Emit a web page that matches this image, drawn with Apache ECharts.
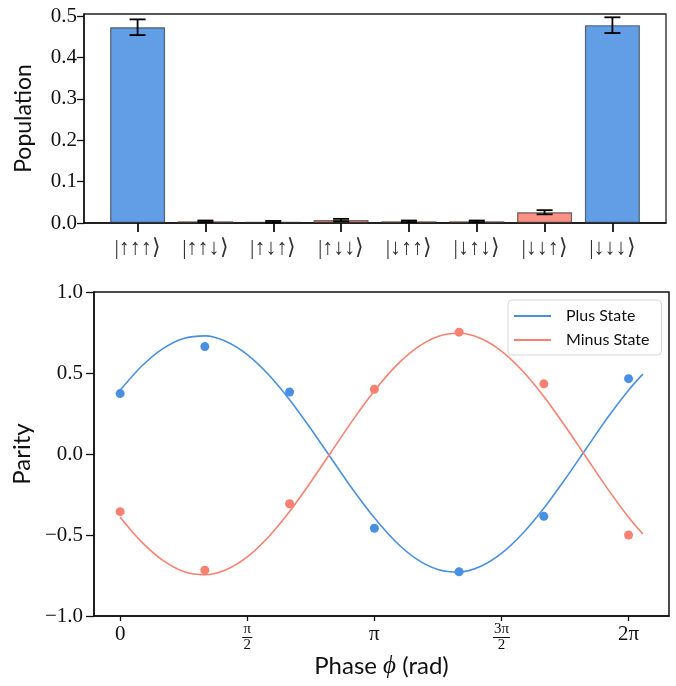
<!DOCTYPE html>
<html>
<head>
<meta charset="utf-8">
<script src="https://cdn.jsdelivr.net/npm/echarts@6/dist/echarts.min.js"></script>
<style>
  html, body { margin: 0; padding: 0; background: #fff; }
  #chart { width: 676px; height: 686px; }
</style>
</head>
<body>
<div id="chart"></div>
<script>
// Three-qubit basis states and their measured populations
const states = ['|↑↑↑⟩', '|↑↑↓⟩', '|↑↓↑⟩', '|↑↓↓⟩', '|↓↑↑⟩', '|↓↑↓⟩', '|↓↓↑⟩', '|↓↓↓⟩'];
const population = [0.473, 0.004, 0.003, 0.007, 0.004, 0.004, 0.026, 0.478];
const populationErr = [0.019, 0.002, 0.002, 0.003, 0.002, 0.002, 0.005, 0.019];
const ghzStates = ['|↑↑↑⟩', '|↓↓↓⟩'];
const popTicks = [0, 0.1, 0.2, 0.3, 0.4, 0.5];

// Parity oscillation: measured points
const phasePoints = [0, 1.047, 2.094, 3.142, 4.189, 5.236, 6.283];
const plusParity = [0.373, 0.663, 0.383, -0.458, -0.727, -0.385, 0.465];
const minusParity = [-0.356, -0.717, -0.307, 0.400, 0.752, 0.433, -0.500];

// Fitted curves, sampled every pi/12
const fitPhase = [0, 0.262, 0.524, 0.785, 1.047, 1.309, 1.571, 1.833, 2.094, 2.356, 2.618, 2.880, 3.142,
  3.403, 3.665, 3.927, 4.189, 4.451, 4.712, 4.974, 5.236, 5.498, 5.760, 6.021, 6.283, 6.460];
const plusFit = [0.394, 0.540, 0.649, 0.713, 0.729, 0.695, 0.614, 0.491, 0.335, 0.156, -0.034, -0.222, -0.394,
  -0.540, -0.649, -0.713, -0.729, -0.695, -0.614, -0.491, -0.335, -0.156, 0.034, 0.222, 0.394, 0.493];
const minusFit = [-0.390, -0.541, -0.655, -0.725, -0.745, -0.714, -0.635, -0.512, -0.355, -0.173, 0.020, 0.212, 0.390,
  0.541, 0.655, 0.725, 0.745, 0.714, 0.635, 0.512, 0.355, 0.173, -0.020, -0.212, -0.390, -0.493];

const phaseTicks = [0, Math.PI / 2, Math.PI, 3 * Math.PI / 2, 2 * Math.PI];
const phaseTickLabels = ['{m|0}', '{s|π}\n{bar| }\n{s|2}', '{m|π}', '{s|3π}\n{wbar| }\n{s|2}', '{m|2π}'];
const parityTicks = [-1, -0.5, 0, 0.5, 1];

const BLUE = '#4a90e2';
const SALMON = '#fa8072';
const SERIF = 'Liberation Serif';
const SANS = 'Lato';

const fmtSigned = v => (v < 0 ? '\u2212' : '') + Math.abs(v).toFixed(1);

const chart = echarts.init(document.getElementById('chart'), null, { renderer: 'canvas' });

const barData = states.map((s, i) => ({
  value: [i, population[i]],
  itemStyle: { color: ghzStates.includes(s) ? BLUE : SALMON, opacity: 0.87 }
}));
const errData = states.map((s, i) => [i, population[i], populationErr[i]]);

chart.setOption({
  animation: false,
  backgroundColor: '#fff',
  grid: [
    { left: 84, right: 10, top: 14, height: 209, show: true, borderColor: '#222', borderWidth: 1.3, backgroundColor: 'transparent' },
    { left: 94, right: 7, top: 292, height: 324, show: true, borderColor: '#111', borderWidth: 1.5, backgroundColor: 'transparent' }
  ],
  legend: {
    data: ['Plus State', 'Minus State'],
    orient: 'vertical',
    left: 508,
    top: 300,
    padding: [8, 12, 7, 6],
    itemWidth: 37,
    itemHeight: 2,
    itemGap: 8,
    icon: 'rect',
    borderColor: '#d6d6d6',
    borderWidth: 1,
    borderRadius: 4,
    backgroundColor: 'rgba(255,255,255,0.8)',
    formatter: name => '{gap| }{t|' + name + '}',
    textStyle: {
      fontFamily: SANS, fontSize: 16, color: '#111',
      rich: {
        gap: { width: 10, fontSize: 16 },
        t: { fontFamily: SANS, fontSize: 16, color: '#111' }
      }
    }
  },
  xAxis: [
    {
      gridIndex: 0, type: 'value', min: -0.79, max: 7.79,
      axisLine: { show: true, onZero: false, lineStyle: { color: '#111', width: 1.5 } },
      axisTick: { show: true, customValues: states.map((s, i) => i), length: 9, lineStyle: { color: '#111', width: 1.8 } },
      axisLabel: {
        customValues: states.map((s, i) => i),
        formatter: v => states[Math.round(v)],
        margin: 14, fontFamily: SERIF, fontSize: 22, color: '#333'
      },
      splitLine: { show: false }
    },
    {
      gridIndex: 1, type: 'value', min: -0.323, max: 6.783,
      name: 'Phase {phi|ϕ} (rad)', nameLocation: 'middle', nameGap: 38,
      nameTextStyle: {
        fontFamily: SANS, fontSize: 24, color: '#111',
        rich: { phi: { fontFamily: SERIF, fontStyle: 'italic', fontSize: 25, color: '#111' } }
      },
      axisLine: { show: true, onZero: false, lineStyle: { color: '#111', width: 1.5 } },
      axisTick: { show: true, customValues: phaseTicks, length: 5, lineStyle: { color: '#111', width: 1.3 } },
      axisLabel: {
        customValues: phaseTicks,
        formatter: v => {
          const i = phaseTicks.findIndex(t => Math.abs(t - v) < 1e-6);
          return i >= 0 ? phaseTickLabels[i] : '';
        },
        margin: 7, verticalAlign: 'top',
        rich: {
          m: { fontFamily: SERIF, fontSize: 21, color: '#111', lineHeight: 22 },
          s: { fontFamily: SERIF, fontSize: 15, color: '#111', lineHeight: 13, align: 'center' },
          bar: { fontSize: 1, lineHeight: 3, width: 10, height: 1, backgroundColor: '#111', align: 'center' },
          wbar: { fontSize: 1, lineHeight: 3, width: 17, height: 1, backgroundColor: '#111', align: 'center' }
        }
      },
      splitLine: { show: false }
    }
  ],
  yAxis: [
    {
      gridIndex: 0, type: 'value', min: 0, max: 0.505,
      name: 'Population', nameLocation: 'middle', nameGap: 49, nameRotate: 90,
      nameTextStyle: { fontFamily: SANS, fontSize: 23, color: '#111' },
      axisLine: { show: true, onZero: false, lineStyle: { color: '#111', width: 1.5 } },
      axisTick: { show: true, customValues: popTicks, length: 7, lineStyle: { color: '#111', width: 1.3 } },
      axisLabel: { customValues: popTicks, formatter: v => v.toFixed(1), margin: 7, fontFamily: SERIF, fontSize: 21, color: '#111' },
      splitLine: { show: false }
    },
    {
      gridIndex: 1, type: 'value', min: -1, max: 1, interval: 0.5,
      name: 'Parity', nameLocation: 'middle', nameGap: 60, nameRotate: 90,
      nameTextStyle: { fontFamily: SANS, fontSize: 24, color: '#111' },
      axisLine: { show: true, onZero: false, lineStyle: { color: '#111', width: 1.5 } },
      axisTick: { show: true, customValues: parityTicks, length: 8, lineStyle: { color: '#111', width: 1.3 } },
      axisLabel: { customValues: parityTicks, formatter: fmtSigned, margin: 11, fontFamily: SERIF, fontSize: 21, color: '#111' },
      splitLine: { show: false }
    }
  ],
  series: [
    {
      type: 'bar', xAxisIndex: 0, yAxisIndex: 0,
      barWidth: 55, data: barData,
      itemStyle: { borderColor: 'rgba(40,40,40,0.75)', borderWidth: 1.2 }
    },
    {
      type: 'custom', xAxisIndex: 0, yAxisIndex: 0, data: errData, z: 5,
      renderItem: (params, api) => {
        const x = api.value(0), v = api.value(1), e = api.value(2);
        const top = api.coord([x, v + e]);
        const bot = api.coord([x, v - e]);
        const half = 8;
        const style = { stroke: '#000', lineWidth: 1.8 };
        return {
          type: 'group',
          children: [
            { type: 'line', shape: { x1: top[0], y1: top[1], x2: bot[0], y2: bot[1] }, style },
            { type: 'line', shape: { x1: top[0] - half, y1: top[1], x2: top[0] + half, y2: top[1] }, style },
            { type: 'line', shape: { x1: bot[0] - half, y1: bot[1], x2: bot[0] + half, y2: bot[1] }, style }
          ]
        };
      }
    },
    {
      name: 'Plus State', type: 'line', xAxisIndex: 1, yAxisIndex: 1,
      data: fitPhase.map((p, i) => [p, plusFit[i]]),
      smooth: 0.3, showSymbol: false, symbol: 'none',
      lineStyle: { color: BLUE, width: 1.6 }, itemStyle: { color: BLUE }
    },
    {
      name: 'Minus State', type: 'line', xAxisIndex: 1, yAxisIndex: 1,
      data: fitPhase.map((p, i) => [p, minusFit[i]]),
      smooth: 0.3, showSymbol: false, symbol: 'none',
      lineStyle: { color: SALMON, width: 1.6 }, itemStyle: { color: SALMON }
    },
    {
      name: 'Plus data', type: 'scatter', xAxisIndex: 1, yAxisIndex: 1,
      data: phasePoints.map((p, i) => [p, plusParity[i]]),
      symbolSize: 9, itemStyle: { color: BLUE, opacity: 1 }
    },
    {
      name: 'Minus data', type: 'scatter', xAxisIndex: 1, yAxisIndex: 1,
      data: phasePoints.map((p, i) => [p, minusParity[i]]),
      symbolSize: 9, itemStyle: { color: SALMON, opacity: 1 }
    }
  ]
});
</script>
</body>
</html>
